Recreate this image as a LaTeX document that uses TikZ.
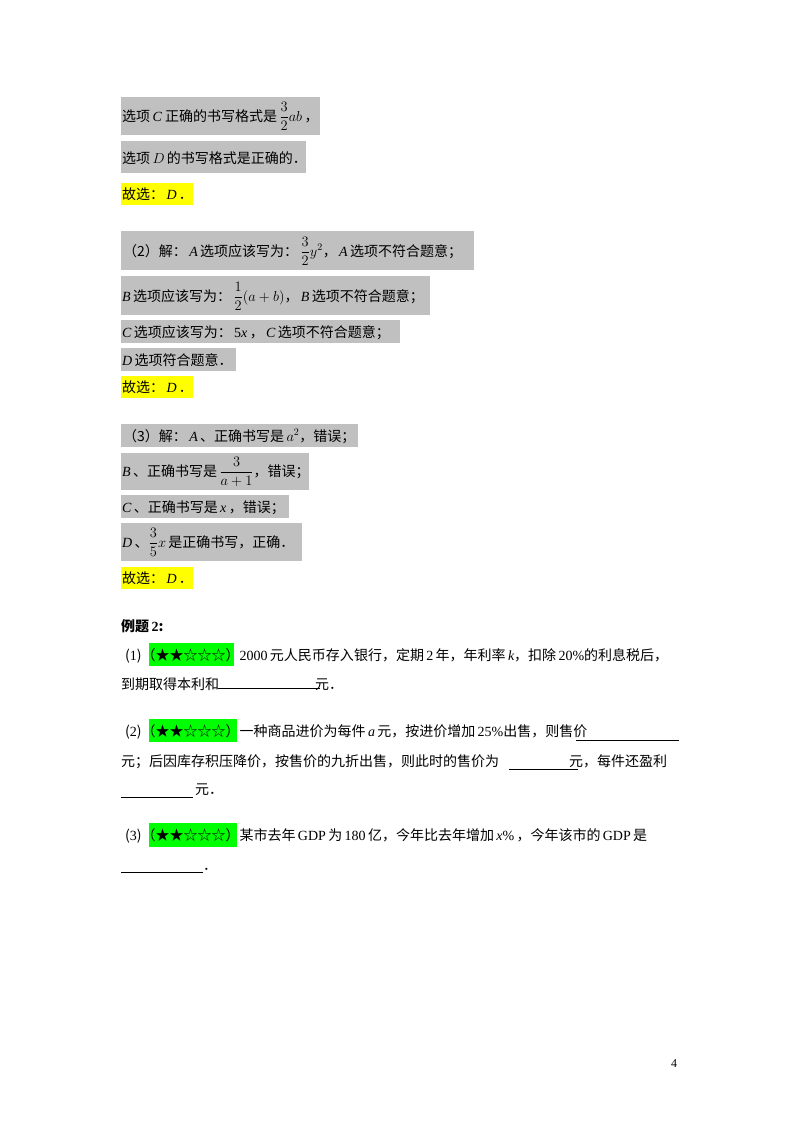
\documentclass[tikz,border=0pt]{standalone}
\usepackage{amsmath}
\usepackage{fontspec}
\setmainfont{Noto Sans CJK SC}
\newfontfamily\tm{Liberation Serif}
\definecolor{gbox}{RGB}{192,192,192}
\definecolor{ybox}{RGB}{255,255,0}
\definecolor{grn}{RGB}{0,255,0}
\begin{document}
\begin{tikzpicture}[x=1pt,y=-1pt,
  t/.style={anchor=base west,inner sep=0pt,font=\fontsize{14}{17}\selectfont},
  ul/.style={line width=0.6pt}]
\useasboundingbox[fill=white] (0,0) rectangle (800,1132);
% boxes
\fill[gbox] (121,97) rectangle (320,135);
\fill[gbox] (121,141) rectangle (306,173);
\fill[ybox] (121,183) rectangle (193,205);
\fill[gbox] (121,231) rectangle (474,270);
\fill[gbox] (121,276) rectangle (430,315);
\fill[gbox] (121,320) rectangle (400,343);
\fill[gbox] (121,348) rectangle (236,371);
\fill[ybox] (121,376) rectangle (193,398);
\fill[gbox] (121,424) rectangle (358,447);
\fill[gbox] (121,453) rectangle (309,490);
\fill[gbox] (121,495) rectangle (289,518);
\fill[gbox] (121,523) rectangle (302,561);
\fill[ybox] (121,567) rectangle (193,589);
\fill[grn] (149,643) rectangle (234,666);
\fill[grn] (149,719) rectangle (237,742);
\fill[grn] (149,823) rectangle (237,847);
% text
\node[t] (l1) at (122,121) {选项\,{\tm\itshape C} 正确的书写格式是\,$\dfrac{3}{2}ab$\,，};
\node[t] (l2) at (122,163) {选项\,$D$\,的书写格式是正确的．};
\node[t] (l3) at (122,199) {故选：\,{\tm\itshape D}\,．};
\node[t] (m1) at (123,256) {（2）解：\,{\tm\itshape A}\,选项应该写为：\,$\dfrac{3}{2}y^2$，\,{\tm\itshape A}\,选项不符合题意；};
\node[t] (m2) at (122,301) {{\tm\itshape B}\,选项应该写为：\,$\dfrac{1}{2}(a+b)$，\,{\tm\itshape B}\,选项不符合题意；};
\node[t] (m3) at (122,337) {{\tm\itshape C}\,选项应该写为：\,{\tm 5\itshape x}\,，\,{\tm\itshape C}\,选项不符合题意；};
\node[t] (m4) at (122,365) {{\tm\itshape D}\,选项符合题意．};
\node[t] (m5) at (122,392) {故选：\,{\tm\itshape D}\,．};
\node[t] (n1) at (123,441) {（3）解：\,{\tm\itshape A}\,、正确书写是\,$a^2$，错误；};
\node[t] (n2) at (122,476) {{\tm\itshape B}\,、正确书写是\,$\dfrac{3}{a+1}$，错误；};
\node[t] (n3) at (122,512) {{\tm\itshape C}\,、正确书写是\,{\tm\itshape x}\,，错误；};
\node[t] (n4) at (122,547) {{\tm\itshape D}\,、$\dfrac{3}{5}x$\,是正确书写，正确．};
\node[t] (n5) at (122,583) {故选：\,{\tm\itshape D}\,．};
\node[t] (e0) at (121,631) {\bfseries 例题\,{\tm\bfseries 2}:};
\node[t] (e1) at (125,660) {({\tm 1})（★★☆☆☆）{\tm 2000}\,元人民币存入银行，定期\,{\tm 2}\,年，年利率\,{\tm\itshape k}，扣除\,{\tm 20\%}的利息税后，};
\node[t] (e1b) at (121,689) {到期取得本利和\hspace{96pt}元．};
\draw[ul] (218,688) -- (320,688);
\node[t] (e2) at (125,736) {({\tm 2})（★★☆☆☆）一种商品进价为每件\,{\tm\itshape a}\,元，按进价增加\,{\tm 25\%}出售，则售价};
\draw[ul] (576,740) -- (679,740);
\node[t] (e2b) at (121,766) {元；后因库存积压降价，按售价的九折出售，则此时的售价为\hspace{70pt}元，每件还盈利};
\draw[ul] (509,769) -- (578,769);
\node[t] (e2c) at (121,794) {\hspace{74pt}元．};
\draw[ul] (121,797) -- (193,797);
\node[t] (e3) at (125,840) {({\tm 3})（★★☆☆☆）某市去年\,{\tm GDP}\,为\,{\tm 180}\,亿，今年比去年增加\,{\tm\itshape x}{\tm\%}\,，今年该市的\,{\tm GDP}\,是};
\node[t] (e3b) at (121,870) {\hspace{82pt}．};
\draw[ul] (121,872) -- (203,872);
\node[t,font=\tm\fontsize{12}{14}\selectfont] (pg) at (671,1067) {4};
\end{tikzpicture}
\end{document}
